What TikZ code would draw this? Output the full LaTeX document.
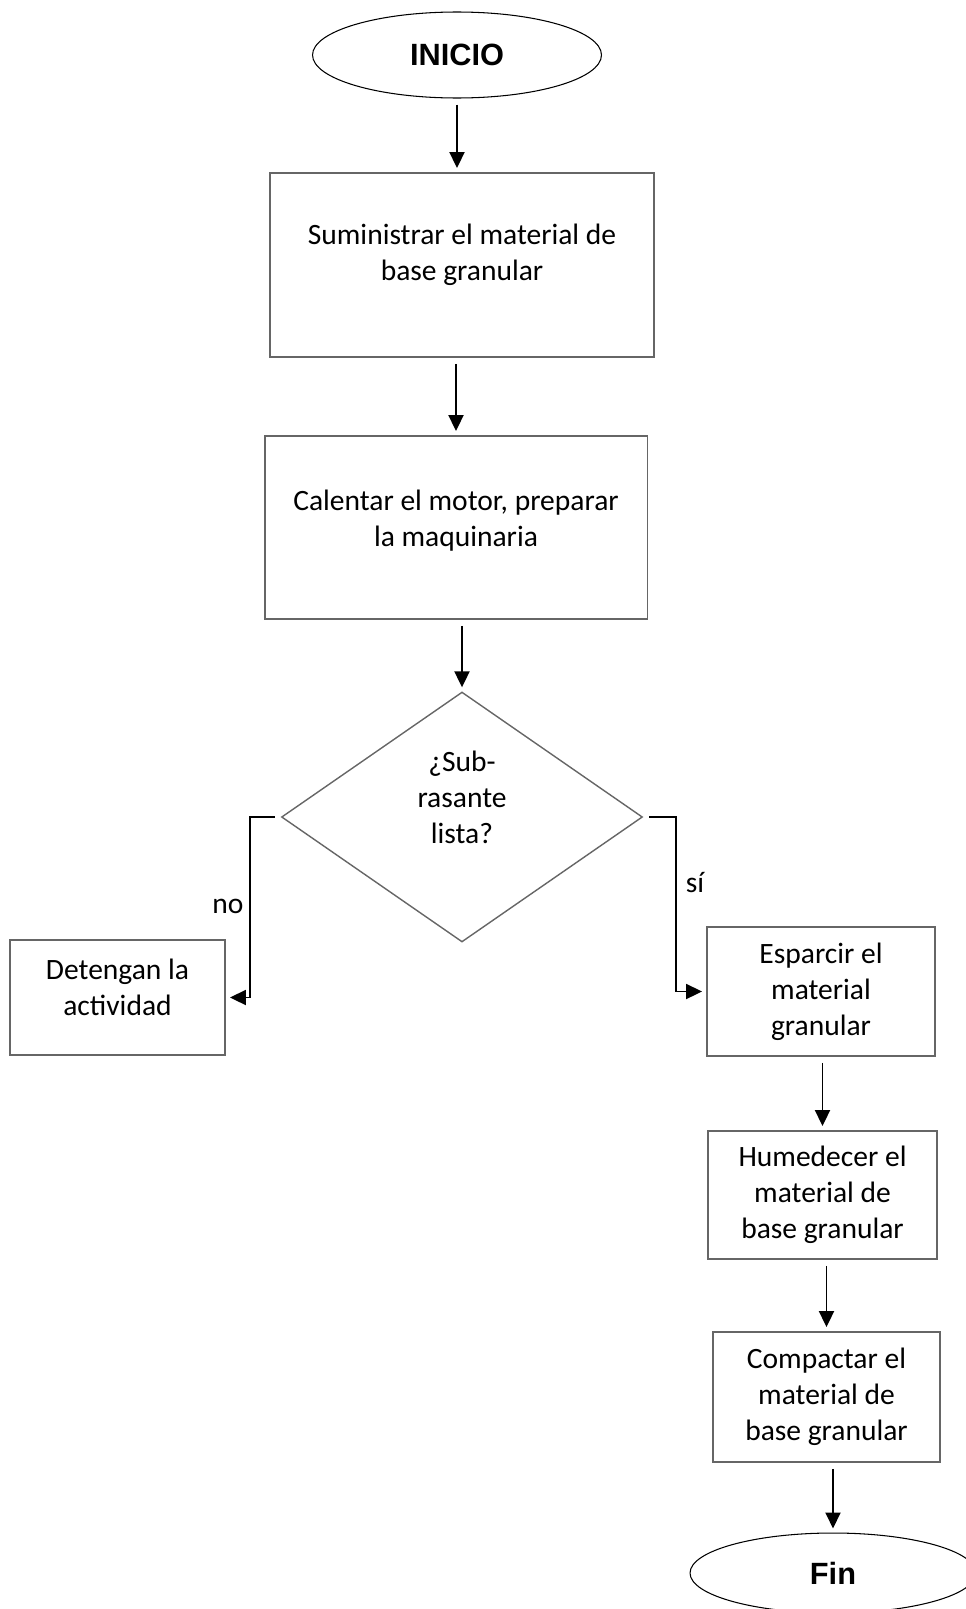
\documentclass[tikz,border=0pt]{standalone}
\usepackage{fontspec}
\setmainfont{Carlito}
\newfontfamily\termfont{Liberation Sans}
\usetikzlibrary{shapes.geometric,arrows.meta}

\tikzset{
    txt/.style={align=center, font=\fontsize{16.8}{20.5}\selectfont},
    box/.style={draw=black!60, line width=1.1pt, inner sep=0pt, txt},
    term/.style={ellipse, draw=black, line width=0.6pt, inner sep=0pt,
        font=\termfont\bfseries\fontsize{17.5}{21}\selectfont},
    decision/.style={diamond, draw=black!60, line width=0.8pt, inner sep=0pt},
    flow/.style={-{Triangle[length=0.32cm,width=0.3cm]}, line width=1.1pt,
        shorten <=0.12cm, shorten >=0.08cm},
}

\begin{document}
\begin{tikzpicture}[x=0.02cm,y=-0.02cm]
\useasboundingbox (0,0) rectangle (966,1609);

% main column (text sits a little above the middle in the big shapes)
\node[term, minimum width=5.78cm, minimum height=1.72cm] (inicio) at (457,55) {INICIO};
\node[box, minimum width=7.68cm, minimum height=3.68cm,
    label={[txt, name=suminTxt, yshift=0.2cm]center:Suministrar el material de\\base granular}]
    (sumin) at (462,265) {};
\node[box, minimum width=7.66cm, minimum height=3.66cm,
    label={[txt, name=calentTxt, yshift=0.14cm]center:Calentar el motor, preparar\\la maquinaria}]
    (calent) at (456,527.5) {};
\node[decision, minimum width=7.22cm, minimum height=5cm,
    label={[txt, name=subTxt, yshift=0.4cm]center:¿Sub-\\rasante\\lista?}]
    (sub) at (462,817) {};

% left branch
\node[box, minimum width=4.3cm, minimum height=2.3cm,
    label={[txt, name=detenTxt, yshift=0.2cm]center:Detengan la\\actividad}]
    (deten) at (117.5,997.5) {};

% right column
\node[box, minimum width=4.56cm, minimum height=2.58cm] (espar) at (821,991.5)
    {Esparcir el\\material\\granular};
\node[box, minimum width=4.58cm, minimum height=2.56cm] (humed) at (822.5,1195)
    {Humedecer el\\material de\\base granular};
\node[box, minimum width=4.54cm, minimum height=2.6cm] (compac) at (826.5,1397)
    {Compactar el\\material de\\base granular};
\node[term, minimum width=5.72cm, minimum height=1.6cm] (fin) at (833,1573) {Fin};

% branch labels
\node[txt] (no) at (228,906) {no};
\node[txt] (si) at (695,883) {sí};

% connectors
\draw[flow] (inicio.south) -- (inicio.south |- sumin.north);
\draw[flow] (sumin.south -| calent) -- (calent.north);
\draw[flow] (calent.south -| sub) -- (sub.north);
\draw[flow] (sub.west) -- ++(-31,0) |- (deten.east);
\draw[flow] (sub.east) -- ++(33,0) |- (espar.west);
\draw[flow] (espar.south -| humed) -- (humed.north);
\draw[flow] (humed.south -| compac) -- (compac.north);
\draw[flow] (compac.south -| fin) -- (fin.north);
\end{tikzpicture}
\end{document}
